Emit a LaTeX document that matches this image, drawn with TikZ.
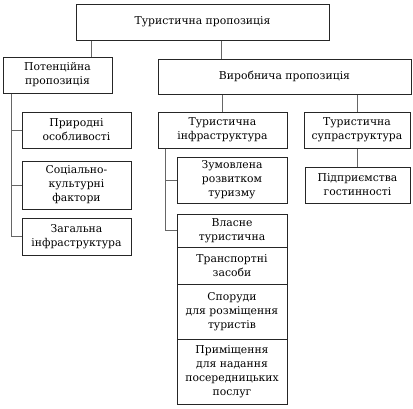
\documentclass[tikz,border=0pt]{standalone}
\usepackage{fontspec}
\setmainfont{DejaVu Serif}
\begin{document}
\begin{tikzpicture}[x=1pt,y=-1pt,
  box/.style={draw=black!85,line width=1pt,align=center,inner sep=0pt,
    font=\fontsize{10.8}{14}\selectfont},
  conn/.style={draw=black!60,line width=0.6pt}]
\useasboundingbox (0,0) rectangle (413,408);
\node[box,minimum width=253,minimum height=36] (top) at (202.5,22) {Туристична пропозиція};
\node[box,minimum width=109,minimum height=36] (pot) at (57.5,75) {Потенційна\\пропозиція};
\node[box,minimum width=253,minimum height=35] (vyr) at (284.5,76.5) {Виробнича пропозиція};
\node[box,minimum width=109,minimum height=36] (pryr) at (76.5,130) {Природні\\особливості};
\node[box,minimum width=109,minimum height=48] (soc) at (76.5,185) {Соціально-\\культурні\\фактори};
\node[box,minimum width=109,minimum height=37] (zag) at (76.5,236.5) {Загальна\\інфраструктура};
\node[box,minimum width=129,minimum height=36] (inf) at (222.5,130) {Туристична\\інфраструктура};
\node[box,minimum width=106,minimum height=36] (sup) at (357,130) {Туристична\\супраструктура};
\node[box,minimum width=105,minimum height=36] (pidp) at (357.5,185) {Підприємства\\гостинності};
\node[box,minimum width=110,minimum height=46] (zum) at (232,180) {Зумовлена\\розвитком\\туризму};
\node[box,minimum width=110,minimum height=33] (vlas) at (232,230.5) {Власне\\туристична};
\node[box,minimum width=110,minimum height=37] (tran) at (232,265.5) {Транспортні\\засоби};
\node[box,minimum width=110,minimum height=55] (spor) at (232,311.5) {Споруди\\для розміщення\\туристів};
\node[box,minimum width=110,minimum height=65] (prym) at (232,371.5) {Приміщення\\для надання\\посередницьких\\послуг};
\coordinate (xa) at (91,0);
\coordinate (xb) at (221,0);
\coordinate (xs) at (11,0);
\coordinate (xi) at (165,0);
\draw[conn] (top.south -| xa) -- (pot.north -| xa);
\draw[conn] (top.south -| xb) -- (vyr.north -| xb);
\draw[conn] (pot.south -| xs) |- (zag.west);
\draw[conn] (pryr.west -| xs) -- (pryr.west);
\draw[conn] (soc.west -| xs) -- (soc.west);
\draw[conn] (vyr.south -| inf.north) -- (inf.north);
\draw[conn] (vyr.south -| sup.north) -- (sup.north);
\draw[conn] (sup.south) -- (pidp.north -| sup.south);
\draw[conn] (inf.south -| xi) |- (vlas.west);
\draw[conn] (zum.west -| xi) -- (zum.west);
\end{tikzpicture}
\end{document}
